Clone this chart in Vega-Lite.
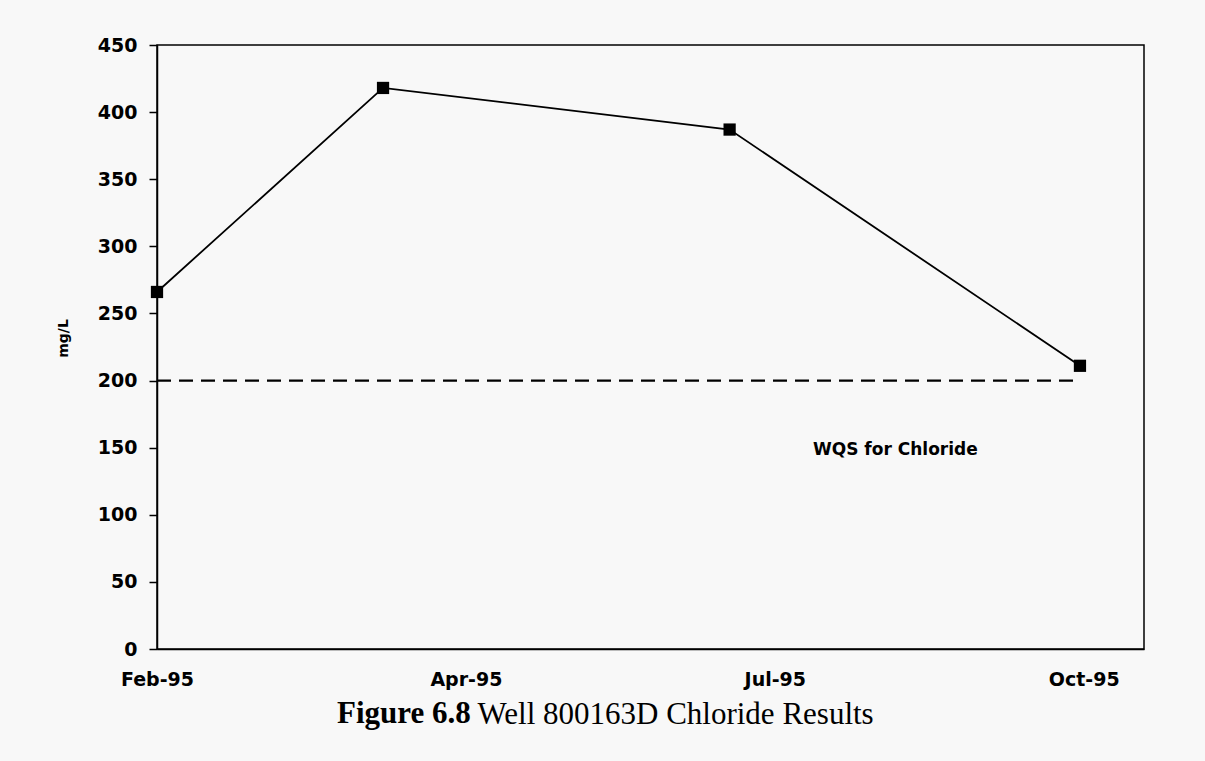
{
  "$schema": "https://vega.github.io/schema/vega-lite/v6.json",
  "width": 987,
  "height": 604,
  "autosize": {"type": "none"},
  "padding": {"left": 157, "top": 45, "right": 61, "bottom": 112},
  "background": "#f8f8f8",
  "title": {
    "text": "Figure 6.8",
    "orient": "bottom",
    "anchor": "start",
    "frame": "group",
    "dx": 180,
    "offset": -6,
    "font": "Liberation Serif",
    "fontSize": 31,
    "fontWeight": "bold",
    "color": "black",
    "baseline": "alphabetic"
  },
  "data": {
    "values": [
      {"date": "1995-02-01", "series": "Chloride", "value": 266},
      {"date": "1995-04-02", "series": "Chloride", "value": 418},
      {"date": "1995-07-03", "series": "Chloride", "value": 387},
      {"date": "1995-10-04", "series": "Chloride", "value": 211},
      {"date": "1995-02-01", "series": "WQS", "value": 200},
      {"date": "1995-04-02", "series": "WQS", "value": 200},
      {"date": "1995-07-03", "series": "WQS", "value": 200},
      {"date": "1995-10-04", "series": "WQS", "value": 200}
    ]
  },
  "encoding": {
    "x": {
      "field": "date",
      "type": "temporal",
      "scale": {
        "type": "utc",
        "nice": false,
        "domain": [
          {"year": 1995, "month": 2, "date": 1, "utc": true},
          {"year": 1995, "month": 10, "date": 21, "utc": true}
        ]
      },
      "axis": {
        "values": [
          {"year": 1995, "month": 2, "date": 1, "utc": true},
          {"year": 1995, "month": 4, "date": 24, "utc": true},
          {"year": 1995, "month": 7, "date": 15, "utc": true},
          {"year": 1995, "month": 10, "date": 5, "utc": true}
        ],
        "labelExpr": "utcFormat(datum.value, '%b-%y')",
        "ticks": false,
        "tickSize": 0,
        "labelPadding": 21,
        "labelFlush": false,
        "labelOverlap": false,
        "labelFont": "DejaVu Sans",
        "labelFontWeight": "bold",
        "labelFontSize": 19,
        "labelColor": "black",
        "domainColor": "black",
        "domainWidth": 1.5,
        "grid": false,
        "title": "Well 800163D Chloride Results",
        "titleFont": "Liberation Serif",
        "titleFontSize": 31,
        "titleFontWeight": "normal",
        "titleColor": "black",
        "titleAlign": "left",
        "titleBaseline": "alphabetic",
        "titleX": 320,
        "titleY": 74
      }
    },
    "y": {
      "field": "value",
      "type": "quantitative",
      "scale": {"domain": [0, 450], "nice": false},
      "axis": {
        "values": [0, 50, 100, 150, 200, 250, 300, 350, 400, 450],
        "tickSize": 8,
        "tickColor": "black",
        "tickWidth": 1.5,
        "labelPadding": 12,
        "labelOverlap": false,
        "labelFont": "DejaVu Sans",
        "labelFontWeight": "bold",
        "labelFontSize": 19,
        "labelColor": "black",
        "domainColor": "black",
        "domainWidth": 1.5,
        "grid": false,
        "title": "mg/L",
        "titleFont": "DejaVu Sans",
        "titleFontWeight": "bold",
        "titleFontSize": 14,
        "titleColor": "black",
        "titleAngle": -90,
        "titleAlign": "center",
        "titleBaseline": "middle",
        "titleX": -94,
        "titleY": 293
      }
    }
  },
  "layer": [
    {
      "transform": [{"filter": "datum.series === 'WQS'"}],
      "mark": {"type": "line", "color": "black", "strokeWidth": 2.2, "strokeDash": [14, 8]}
    },
    {
      "transform": [{"filter": "datum.series === 'Chloride'"}],
      "mark": {"type": "line", "color": "black", "strokeWidth": 1.8}
    },
    {
      "transform": [{"filter": "datum.series === 'Chloride'"}],
      "mark": {"type": "point", "shape": "square", "filled": true, "size": 150, "color": "black", "opacity": 1}
    },
    {
      "data": {"values": [{"date": "1995-08-16", "value": 148, "label": "WQS for Chloride"}]},
      "mark": {"type": "text", "font": "DejaVu Sans", "fontWeight": "bold", "fontSize": 17, "color": "black", "align": "center", "baseline": "middle"},
      "encoding": {"text": {"field": "label"}}
    }
  ],
  "config": {
    "view": {"stroke": "black", "strokeWidth": 1.5}
  }
}
